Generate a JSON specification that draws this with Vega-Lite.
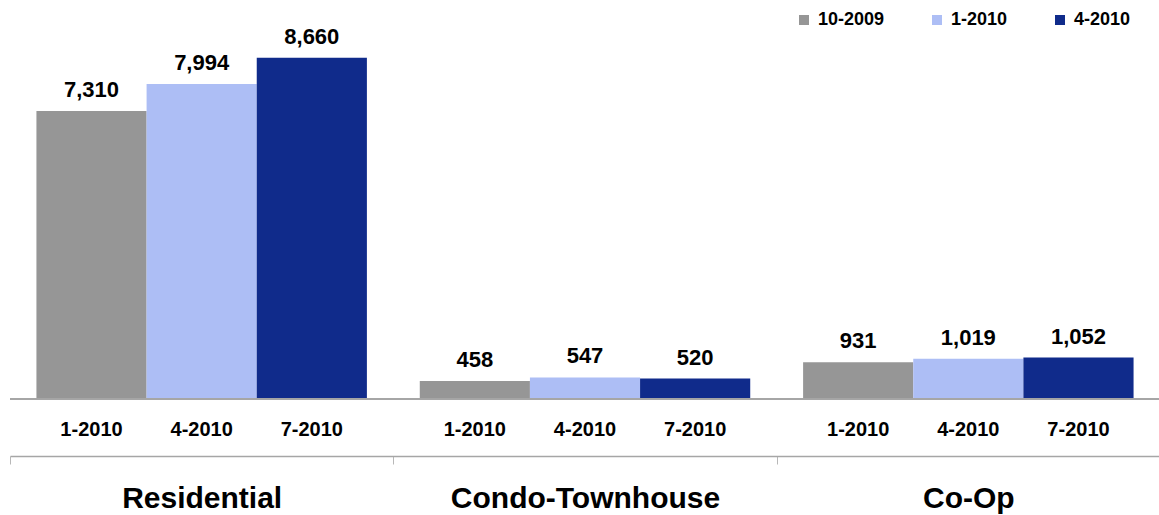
{
  "$schema": "https://vega.github.io/schema/vega-lite/v6.json",
  "width": 1150,
  "height": 394,
  "autosize": {"type": "none"},
  "padding": {"left": 10, "top": 5, "right": 0, "bottom": 116},
  "background": "white",
  "config": {
    "font": "Liberation Sans",
    "view": {"stroke": null}
  },
  "data": {
    "values": [
      {"category": "Residential", "period": "1-2010", "series": "10-2009", "value": 7310},
      {"category": "Residential", "period": "4-2010", "series": "1-2010", "value": 7994},
      {"category": "Residential", "period": "7-2010", "series": "4-2010", "value": 8660},
      {"category": "Condo-Townhouse", "period": "1-2010", "series": "10-2009", "value": 458},
      {"category": "Condo-Townhouse", "period": "4-2010", "series": "1-2010", "value": 547},
      {"category": "Condo-Townhouse", "period": "7-2010", "series": "4-2010", "value": 520},
      {"category": "Co-Op", "period": "1-2010", "series": "10-2009", "value": 931},
      {"category": "Co-Op", "period": "4-2010", "series": "1-2010", "value": 1019},
      {"category": "Co-Op", "period": "7-2010", "series": "4-2010", "value": 1052}
    ]
  },
  "layer": [
    {
      "mark": {"type": "bar"},
      "encoding": {
        "x": {
          "field": "category", "type": "nominal",
          "scale": {"domain": ["Residential", "Condo-Townhouse", "Co-Op"], "paddingInner": 0, "paddingOuter": 0},
          "axis": {
            "orient": "bottom", "offset": 57, "title": null,
            "domainColor": "#a6a6a6", "domainWidth": 1.5,
            "tickColor": "#b8b8b8", "tickSize": 8, "tickBand": "extent",
            "labelFontSize": 30, "labelFontWeight": "bold", "labelColor": "black",
            "labelPadding": 19, "labelAngle": 0, "labelLimit": 0
          }
        },
        "xOffset": {
          "field": "period", "type": "nominal",
          "scale": {"domain": ["1-2010", "4-2010", "7-2010"], "paddingInner": 0, "paddingOuter": 0.24}
        },
        "y": {"field": "value", "type": "quantitative", "scale": {"domain": [0, 10000]}, "axis": null},
        "color": {
          "field": "series", "type": "nominal",
          "scale": {"domain": ["10-2009", "1-2010", "4-2010"], "range": ["#969696", "#adbef5", "#102b8b"]},
          "legend": {
            "title": null, "orient": "none", "direction": "horizontal",
            "legendX": 785, "legendY": 6, "padding": 0,
            "symbolType": "square", "symbolSize": 100, "symbolStrokeWidth": 0,
            "labelFontSize": 18, "labelFontWeight": "bold", "labelColor": "black",
            "labelOffset": 5, "columnPadding": 43
          }
        }
      }
    },
    {
      "mark": {"type": "text", "fontSize": 22, "fontWeight": "bold", "baseline": "alphabetic", "dy": -14, "color": "black"},
      "encoding": {
        "x": {"field": "category", "type": "nominal", "scale": {"domain": ["Residential", "Condo-Townhouse", "Co-Op"]}},
        "xOffset": {"field": "period", "type": "nominal", "scale": {"domain": ["1-2010", "4-2010", "7-2010"]}},
        "y": {"field": "value", "type": "quantitative"},
        "text": {"field": "value", "type": "quantitative", "format": ","}
      }
    },
    {
      "mark": {"type": "text", "fontSize": 20, "fontWeight": "bold", "baseline": "middle", "dy": 31, "color": "black"},
      "encoding": {
        "x": {"field": "category", "type": "nominal", "scale": {"domain": ["Residential", "Condo-Townhouse", "Co-Op"]}},
        "xOffset": {"field": "period", "type": "nominal", "scale": {"domain": ["1-2010", "4-2010", "7-2010"]}},
        "y": {"datum": 0},
        "text": {"field": "period", "type": "nominal"}
      }
    },
    {
      "mark": {"type": "rule", "color": "#a6a6a6", "strokeWidth": 1.5},
      "encoding": {"y": {"datum": 0}}
    }
  ]
}
